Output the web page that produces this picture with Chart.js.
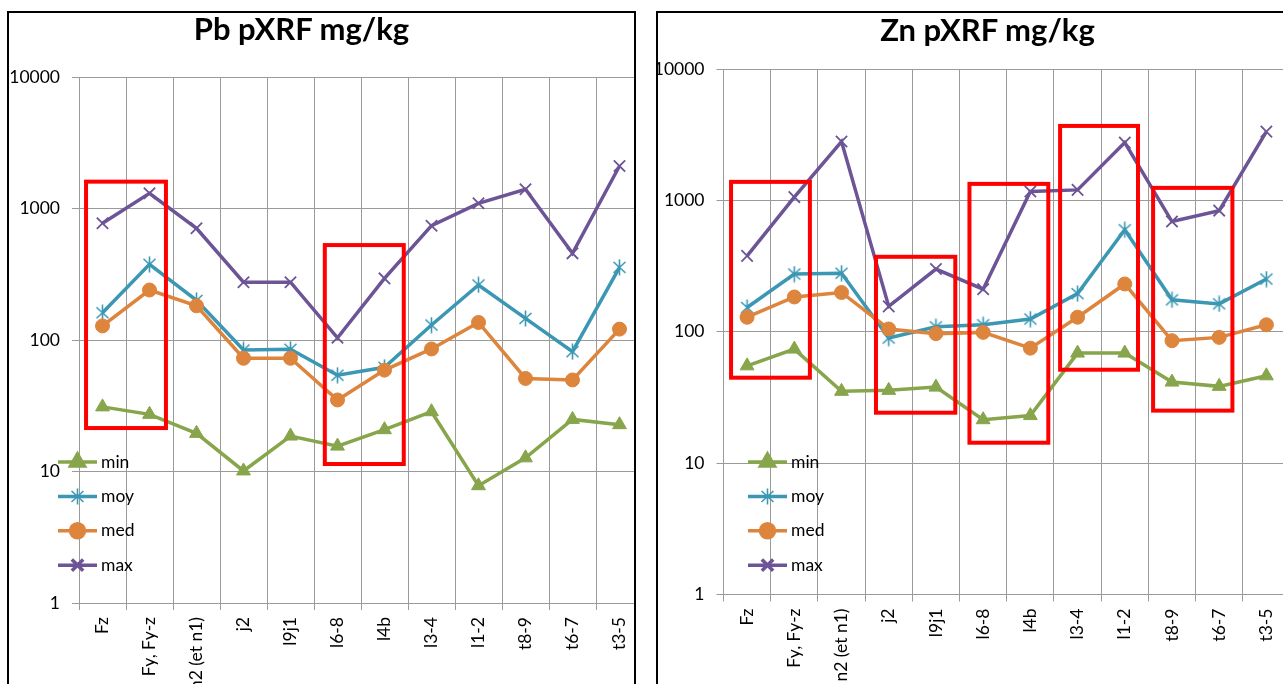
<!DOCTYPE html>
<html><head><meta charset="utf-8">
<script src="https://cdn.jsdelivr.net/npm/chart.js@4/dist/chart.umd.min.js"></script>
<style>
html,body{margin:0;padding:0;width:1283px;height:684px;overflow:hidden;background:#fff;font-family:Lato,sans-serif}
.panel{position:absolute;top:11px;border:2px solid #000;overflow:hidden;background:#fff}
#p1{left:7px;width:625px;height:720px}
#p2{left:656px;width:660px;height:720px}
.panel canvas{position:absolute}
#c1{left:-9px;top:-13px}
#c2{left:-18px;top:-13px}
.title{position:absolute;top:13px;font:bold 31px Lato,sans-serif;line-height:1;color:#000;white-space:nowrap;transform:translateX(-50%)}
</style>
</head><body>
<div class="panel" id="p1"><canvas id="c1" width="660" height="770"></canvas></div>
<div class="panel" id="p2"><canvas id="c2" width="670" height="770"></canvas></div>
<div class="title" style="left:301.5px">Pb pXRF mg/kg</div>
<div class="title" style="left:987.5px;top:14px">Zn pXRF mg/kg</div>
<script>
// ---- data ----
const categories = ["Fz","Fy, Fy-z","n2 (et n1)","j2","l9j1","l6-8","l4b","l3-4","l1-2","t8-9","t6-7","t3-5"];
const seriesNames = ["min","moy","med","max"];
const yTickValues = [1,10,100,1000,10000];

const pbMin = [31, 27.2, 19.5, 10.1, 18.6, 15.6, 20.8, 28.5, 7.8, 12.7, 24.9, 22.7];
const pbMoy = [161, 376, 200, 84, 85, 54, 62, 130, 262, 146, 81.5, 357];
const pbMed = [128, 240, 182, 72.6, 72.6, 35, 59, 85.5, 136, 51, 49.7, 121];
const pbMax = [772, 1305, 707, 275, 275, 104, 294, 740, 1095, 1400, 456, 2105];

const znMin = [55, 73.8, 35.2, 35.8, 37.9, 21.4, 23, 68.8, 68.8, 41.4, 38.4, 46.2];
const znMoy = [153, 275, 279, 89.6, 109, 113, 125, 195, 597, 175, 163, 252];
const znMed = [129, 184, 199, 105, 96.7, 98.9, 75, 129, 231, 85.5, 90.6, 113];
const znMax = [378, 1059, 2805, 156, 300, 211, 1167, 1202, 2752, 690, 836, 3336];

// highlight frames: [fromIndex, toIndex, topValue, bottomValue]
const pbHighlights = [[-0.35, 1.35, 1600, 21.4], [4.73, 6.41, 527, 11.4]];
const znHighlights = [[-0.34, 1.33, 1383, 44.7], [2.73, 4.41, 372, 24.2], [4.71, 6.38, 1335, 14.3], [6.63, 8.28, 3687, 51.4], [8.60, 10.28, 1245, 25.1]];

// ---- styles ----
const colMin = '#87a54b', colMoy = '#3b97b3', colMed = '#dd843d', colMax = '#6c5496';
const GRID = '#9a9a9a';
const FONT_SIZE = 17.5;
Chart.defaults.font.family = 'Lato';

function asterisk(color){
  const c = document.createElement('canvas'); c.width = 17; c.height = 17;
  const g = c.getContext('2d'); g.strokeStyle = color; g.lineWidth = 1.6;
  g.beginPath();
  g.moveTo(2.5,3); g.lineTo(14.5,14); g.moveTo(14.5,3); g.lineTo(2.5,14);
  g.moveTo(8.5,0.5); g.lineTo(8.5,16.5);
  g.stroke();
  return c;
}

function makeDatasets(mn, my, md, mx){
  return [
    {label: seriesNames[0], data: mn, borderColor: colMin, backgroundColor: colMin, pointStyle: 'triangle', pointRadius: 8, pointBorderWidth: 1, order: 3},
    {label: seriesNames[1], data: my, borderColor: colMoy, backgroundColor: colMoy, pointStyle: asterisk(colMoy), pointRadius: 8, order: 2},
    {label: seriesNames[2], data: md, borderColor: colMed, backgroundColor: colMed, pointStyle: 'circle', pointRadius: 7, pointBorderWidth: 1, order: 1},
    {label: seriesNames[3], data: mx, borderColor: colMax, backgroundColor: colMax, pointStyle: 'crossRot', pointRadius: 8, pointBorderWidth: 1.8, order: 0}
  ].map(d => Object.assign({borderWidth: 3.5, tension: 0, fill: false}, d));
}

const overlay = {
  id: 'overlay',
  afterDatasetsDraw(chart, args, opts){
    const ctx = chart.ctx, xs = chart.scales.x, ys = chart.scales.y;
    ctx.save();
    ctx.strokeStyle = '#ff0000'; ctx.lineWidth = 4;
    (opts.frames || []).forEach(f => {
      const x0 = xs.getPixelForValue(f[0]), x1 = xs.getPixelForValue(f[1]);
      const y0 = ys.getPixelForValue(f[2]), y1 = ys.getPixelForValue(f[3]);
      ctx.strokeRect(x0, y0, x1 - x0, y1 - y0);
    });
    // legend
    const L = opts.legend;
    chart.data.datasets.forEach((ds, i) => {
      const y = L.y + i * L.gap;
      ctx.strokeStyle = ds.borderColor; ctx.lineWidth = 3.5;
      ctx.beginPath(); ctx.moveTo(L.x0, y); ctx.lineTo(L.x1, y); ctx.stroke();
      ctx.fillStyle = ds.backgroundColor; ctx.strokeStyle = ds.borderColor;
      Chart.helpers.drawPoint(ctx, {pointStyle: ds.pointStyle, radius: ds.pointRadius, borderWidth: ds.pointBorderWidth || 1, rotation: 0}, (L.x0 + L.x1) / 2, y);
      ctx.fillStyle = '#000'; ctx.font = FONT_SIZE + 'px Lato'; ctx.textBaseline = 'middle'; ctx.textAlign = 'left';
      ctx.fillText(ds.label, L.tx, y);
    });
    ctx.restore();
  }
};

function build(id, sets, frames, yWidth, padTop, padRight, bottomY, legend){
  const canvas = document.getElementById(id);
  return new Chart(canvas, {
    type: 'line',
    data: {labels: categories, datasets: sets},
    options: {
      responsive: false, animation: false, events: [],
      layout: {padding: {top: padTop, right: padRight, left: 0, bottom: 0}},
      plugins: {legend: {display: false}, tooltip: {enabled: false}, overlay: {frames, legend}},
      scales: {
        x: {
          type: 'category', offset: true,
          grid: {offset: true, color: GRID, lineWidth: 1, tickLength: 7, drawTicks: true},
          border: {color: GRID, width: 1},
          ticks: {autoSkip: false, minRotation: 90, maxRotation: 90, padding: 7, color: '#000', font: {size: FONT_SIZE, family: 'Lato'}},
          afterFit: s => { s.height = canvas.height - bottomY; }
        },
        y: {
          type: 'logarithmic', min: 1, max: 10000,
          afterBuildTicks: s => { s.ticks = yTickValues.map(v => ({value: v})); },
          grid: {color: GRID, lineWidth: 1, tickLength: 7, drawTicks: true},
          border: {color: GRID, width: 1},
          ticks: {padding: 12, color: '#000', font: {size: FONT_SIZE, family: 'Lato'}, callback: v => String(v)},
          afterFit: s => { s.width = yWidth; }
        }
      }
    },
    plugins: [overlay]
  });
}

build('c1', makeDatasets(pbMin, pbMoy, pbMed, pbMax), pbHighlights, 79, 77, 17, 603,
      {x0: 58, x1: 97, tx: 101, y: 462, gap: 34.4});
build('c2', makeDatasets(znMin, znMoy, znMed, znMax), znHighlights, 83.5, 69, 20, 594.5,
      {x0: 108, x1: 147, tx: 151, y: 462, gap: 34.4});
</script>
</body></html>
